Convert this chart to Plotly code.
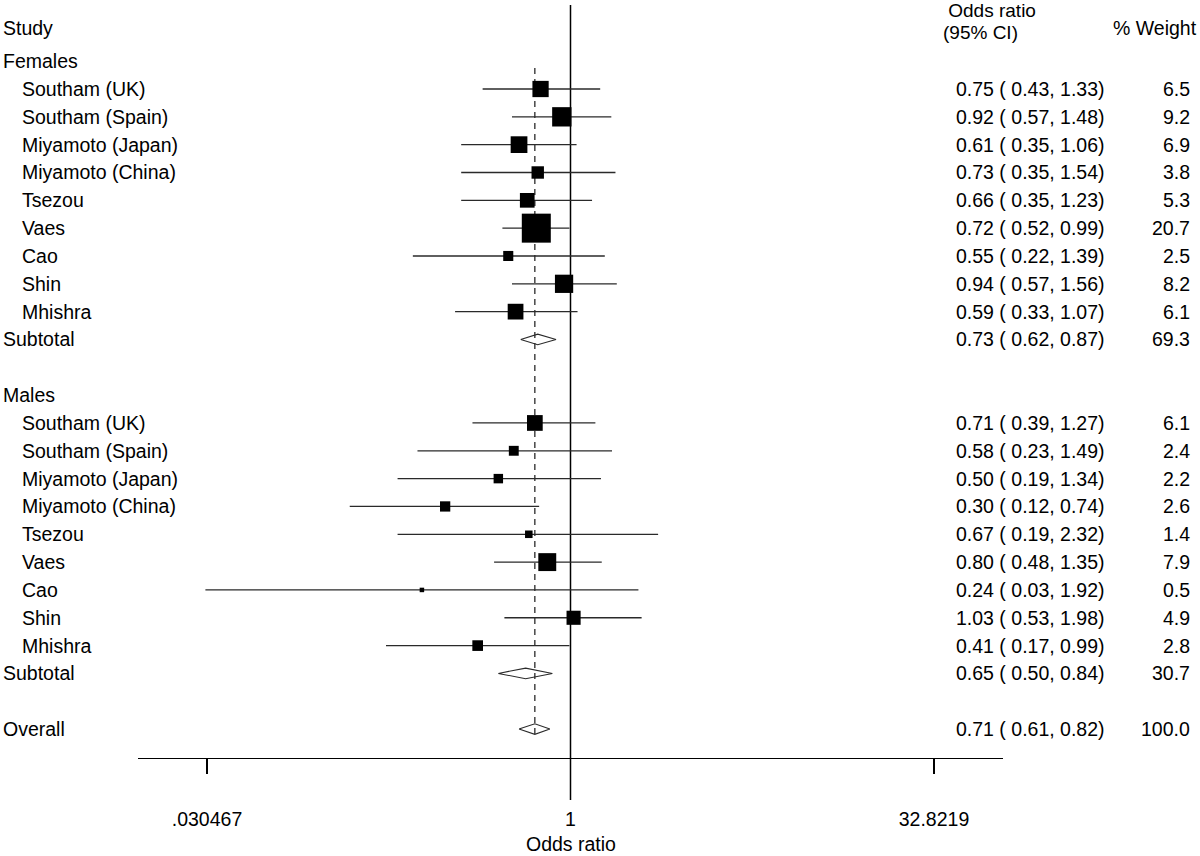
import plotly.graph_objects as go

# ---------------- data ----------------
studies = ["Southam (UK)", "Southam (Spain)", "Miyamoto (Japan)", "Miyamoto (China)",
           "Tsezou", "Vaes", "Cao", "Shin", "Mhishra"]

fem_or = [0.75, 0.92, 0.61, 0.73, 0.66, 0.72, 0.55, 0.94, 0.59]
fem_lo = [0.43, 0.57, 0.35, 0.35, 0.35, 0.52, 0.22, 0.57, 0.33]
fem_hi = [1.33, 1.48, 1.06, 1.54, 1.23, 0.99, 1.39, 1.56, 1.07]
fem_wt = [6.5, 9.2, 6.9, 3.8, 5.3, 20.7, 2.5, 8.2, 6.1]
fem_sub = [0.73, 0.62, 0.87, 69.3]

mal_or = [0.71, 0.58, 0.50, 0.30, 0.67, 0.80, 0.24, 1.03, 0.41]
mal_lo = [0.39, 0.23, 0.19, 0.12, 0.19, 0.48, 0.03, 0.53, 0.17]
mal_hi = [1.27, 1.49, 1.34, 0.74, 2.32, 1.35, 1.92, 1.98, 0.99]
mal_wt = [6.1, 2.4, 2.2, 2.6, 1.4, 7.9, 0.5, 4.9, 2.8]
mal_sub = [0.65, 0.50, 0.84, 30.7]

overall = [0.71, 0.61, 0.82, 100.0]

tick_vals = [0.030467, 1, 32.8219]
tick_text = [".030467", "1", "32.8219"]

# ---------------- layout helpers ----------------
FONT = "Liberation Sans, Arial, sans-serif"
FS = 19.5
W, H = 1200, 856
ROW0_PX, ROW_STEP = 89.0, 27.83


def px2row(py):
    return (py - ROW0_PX) / ROW_STEP


def pxx(px):
    return px / W


fig = go.Figure()
annotations = []


def text(x_px, row, s, anchor="left", pad=1, size=FS):
    annotations.append(dict(x=pxx(x_px), xref="paper", y=row, yref="y", text=s,
                            showarrow=False, xanchor=anchor, yanchor="middle",
                            borderpad=pad, align="left",
                            font=dict(family=FONT, size=size, color="black")))


def study_rows(start_row, ors, los, his, wts):
    rows = [start_row + i for i in range(len(ors))]
    # CI lines
    xs, ys = [], []
    for r, l, h in zip(rows, los, his):
        xs += [l, h, None]
        ys += [r, r, None]
    fig.add_trace(go.Scatter(x=xs, y=ys, mode="lines",
                             line=dict(color="#2a2a2a", width=1.3),
                             hoverinfo="skip", showlegend=False))
    # weighted boxes
    sizes = [29.0 * (w / 20.7) ** 0.5 for w in wts]
    fig.add_trace(go.Scatter(x=ors, y=rows, mode="markers",
                             marker=dict(symbol="square", size=sizes, color="black",
                                         opacity=1, line=dict(width=0)),
                             hoverinfo="skip", showlegend=False))
    for r, name, o, l, h, w in zip(rows, studies, ors, los, his, wts):
        text(20, r, name)
        text(1107, r, f"{o:.2f} ( {l:.2f}, {h:.2f})", "right")
        text(1192, r, f"{w:.1f}", "right")


def diamond(row, vals, label):
    o, l, h, w = vals
    hh = 0.19
    fig.add_trace(go.Scatter(x=[l, o, h, o, l], y=[row, row - hh, row, row + hh, row],
                             mode="lines", line=dict(color="#2a2a2a", width=1.1),
                             hoverinfo="skip", showlegend=False))
    text(1, row, label)
    text(1107, row, f"{o:.2f} ( {l:.2f}, {h:.2f})", "right")
    text(1192, row, f"{w:.1f}", "right")


# null line (OR = 1)
fig.add_trace(go.Scatter(x=[1, 1], y=[px2row(5), px2row(800)], mode="lines",
                         line=dict(color="black", width=1.5),
                         hoverinfo="skip", showlegend=False))
# overall dashed line
fig.add_trace(go.Scatter(x=[overall[0], overall[0]], y=[px2row(68), 23.2], mode="lines",
                         line=dict(color="#2a2a2a", width=1.3, dash="6px,5px"),
                         hoverinfo="skip", showlegend=False))

study_rows(0, fem_or, fem_lo, fem_hi, fem_wt)
diamond(9, fem_sub, "Subtotal")
study_rows(12, mal_or, mal_lo, mal_hi, mal_wt)
diamond(21, mal_sub, "Subtotal")
diamond(23, overall, "Overall")

# headers
text(1, px2row(28), "Study")
text(1, -1, "Females")
text(1, 11, "Males")
# two-line header with tight line spacing (line spacing follows the small base size)
HFS = 19
big = f'<span style="font-size:{HFS}px">'
text(942, px2row(21.5),
     big + "&nbsp;Odds ratio</span><br>" + big + "(95% CI)</span>", pad=0, size=16.6)
text(1199, px2row(28), "% Weight", "right")

# axis title
annotations.append(dict(x=0, xref="x", y=px2row(844), yref="y", text="Odds ratio",
                        showarrow=False, xanchor="center", yanchor="middle", borderpad=0,
                        font=dict(family=FONT, size=FS, color="black")))

fig.update_layout(
    width=W, height=H,
    margin=dict(l=0, r=0, t=0, b=0, pad=0),
    paper_bgcolor="white", plot_bgcolor="white",
    showlegend=False,
    annotations=annotations,
    xaxis=dict(type="log", range=[-1.804, 1.804], domain=[138 / W, 1003 / W],
               anchor="free", position=(H - 758) / H,
               showgrid=False, zeroline=False,
               showline=True, linecolor="black", linewidth=1.3,
               ticks="outside", ticklen=15, tickwidth=1.3, tickcolor="black",
               tickvals=tick_vals, ticktext=tick_text,
               tickfont=dict(family=FONT, size=FS, color="black"),
               ticklabelstandoff=28, automargin=False, fixedrange=True),
    yaxis=dict(range=[px2row(H), px2row(0)], domain=[0, 1], visible=False,
               automargin=False, fixedrange=True),
)

fig.write_html("out.html",
               config={"displayModeBar": False, "staticPlot": True},
               post_script="document.body.style.margin='0';document.body.style.overflow='hidden';")
